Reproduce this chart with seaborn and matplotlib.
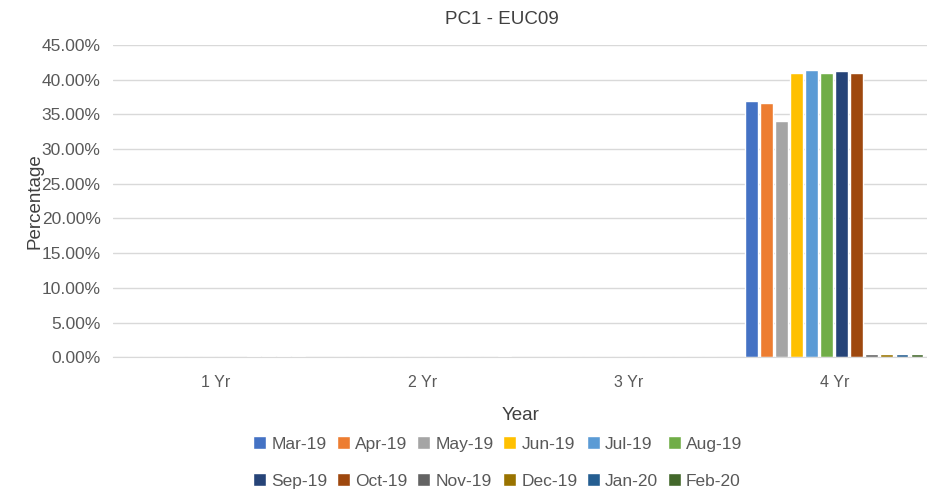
import numpy as np
import pandas as pd
import matplotlib
matplotlib.use("Agg")
import matplotlib.pyplot as plt
import seaborn as sns
from matplotlib.ticker import FuncFormatter

years = ['1 Yr', '2 Yr', '3 Yr', '4 Yr']
months = ['Mar-19', 'Apr-19', 'May-19', 'Jun-19', 'Jul-19', 'Aug-19',
          'Sep-19', 'Oct-19', 'Nov-19', 'Dec-19', 'Jan-20', 'Feb-20']
colors = ['#4472C4', '#ED7D31', '#A5A5A5', '#FFC000', '#5B9BD5', '#70AD47',
          '#264478', '#9E480E', '#636363', '#997300', '#255E91', '#43682B']

# percentage per month, one list per year bucket
yr1 = [0, 0, 0, 0, 0, 0, 0, 0, 0.1, 0.1, 0.1, 0.1]
yr2 = [0, 0, 0, 0, 0, 0, 0, 0, 0, 0, 0, 0.1]
yr3 = [0, 0, 0, 0, 0, 0, 0, 0, 0, 0, 0, 0]
yr4 = [36.9, 36.7, 34.1, 41.0, 41.4, 41.0, 41.2, 41.0, 0.4, 0.4, 0.4, 0.4]

rows = []
for y, vals in zip(years, [yr1, yr2, yr3, yr4]):
    for m, v in zip(months, vals):
        rows.append({'Year': y, 'Month': m, 'Value': v})
df = pd.DataFrame(rows)

sns.set_style('white')
plt.rcParams['font.family'] = ['Liberation Sans', 'DejaVu Sans']

fig = plt.figure(figsize=(9.27, 4.92), dpi=100)
ax = fig.add_axes([0.122, 0.274, 0.878, 0.6345])

sns.barplot(data=df, x='Year', y='Value', hue='Month', order=years,
            hue_order=months, palette=colors, width=0.875, gap=0.15,
            saturation=1, ax=ax, legend=True)

ax.set_ylim(0, 45)
ax.set_xlim(-0.5, 3.45)
ax.set_yticks(np.arange(0, 46, 5))
ax.yaxis.set_major_formatter(FuncFormatter(lambda v, p: f'{v:.2f}%'))
ax.grid(axis='y', color='#D9D9D9', linewidth=1)
ax.set_axisbelow(True)
for s in ['left', 'right', 'top']:
    ax.spines[s].set_visible(False)
ax.spines['bottom'].set_color('#D9D9D9')
ax.tick_params(axis='both', colors='#595959', labelsize=12.5, length=0)
ax.tick_params(axis='y', pad=9)
ax.tick_params(axis='x', labelsize=11.5)
ax.set_xticks(np.arange(-0.5, 3.5, 1), minor=True)
ax.tick_params(axis='x', which='minor', length=5, color='#D9D9D9')
ax.tick_params(axis='x', which='major', pad=13)

fig.text(0.5415, 0.96, 'PC1 - EUC09', fontsize=13.5, color='#404040',
         ha='center', va='center')
ax.set_xlabel('Year', fontsize=13.5, color='#404040', labelpad=12)
ax.set_ylabel('Percentage', fontsize=13.5, color='#404040')
ax.yaxis.set_label_coords(-0.085, 0.5)

handles, labels = ax.get_legend_handles_labels()
ax.get_legend().remove()
order = [i for j in range(6) for i in (j, j + 6)]
fig.legend([handles[i] for i in order], [labels[i] for i in order],
           loc='center', bbox_to_anchor=(0.537, 0.06),
           ncol=6, frameon=False, fontsize=12.5, handlelength=0.75,
           handleheight=0.75, handletextpad=0.3, columnspacing=0.55,
           labelspacing=1.25, labelcolor='#595959')

fig.savefig('out.png', dpi=100)
